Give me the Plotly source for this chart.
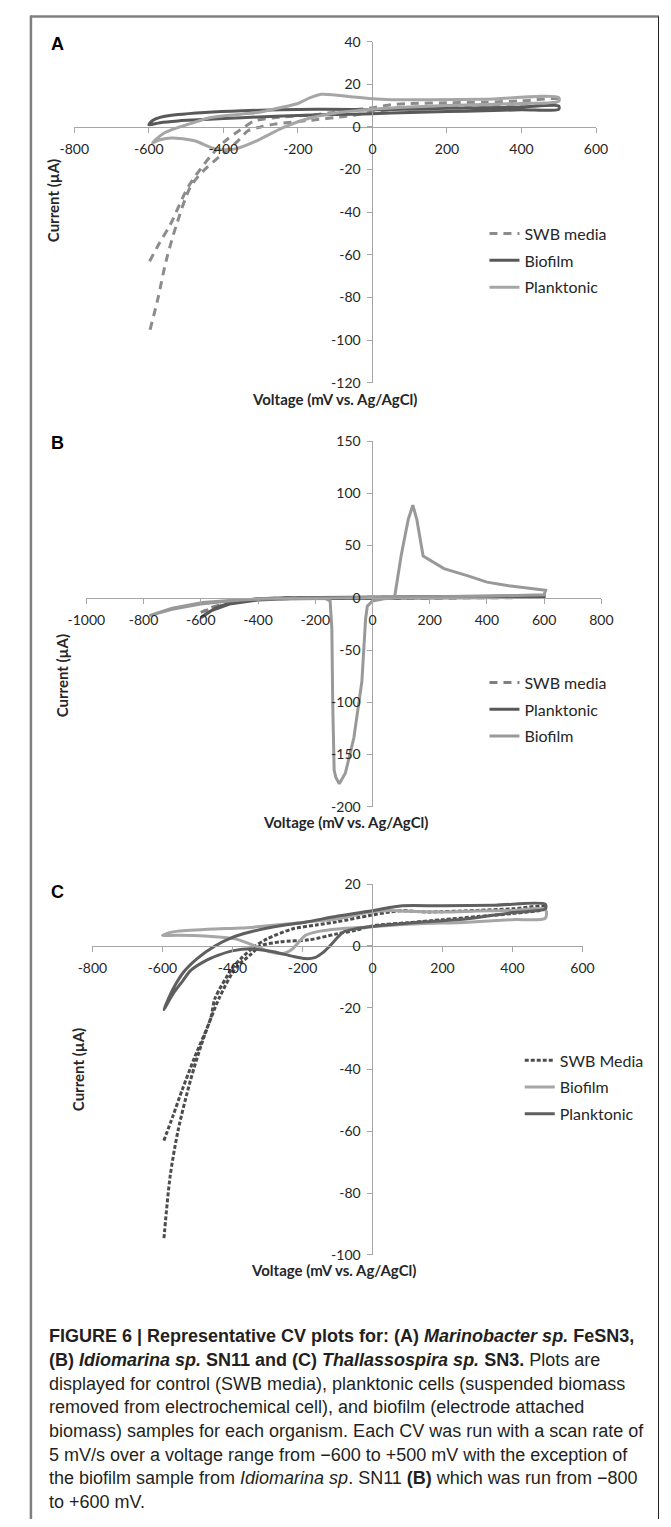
import plotly.graph_objects as go

W, H = 671, 1527

# ---------------- Panel A data (Marinobacter sp. FeSN3) ----------------
A_swb_v = [-598, -570, -543, -494, -436, -394, -360, -343, -317, -250, -147, -100, -50, 0, 50, 100, 200, 300, 400, 500,
           500, 400, 300, 200, 100, 50, 0, -50, -100, -147, -200, -266, -300, -334, -360, -411, -450, -488, -526, -554, -575, -598]
A_swb_i = [-63, -54, -46, -28, -14, -6.4, -2, 0, 2.8, 4.5, 5.8, 7, 8, 9, 10.4, 11, 11.3, 11.6, 12.2, 13,
           11.5, 10.8, 10.3, 9.8, 9, 8.2, 7, 5.5, 4.4, 3.5, 2.5, 1.2, 0, -1.8, -6.4, -14, -20, -28, -46, -63, -80, -96]

A_bio_v = [-600, -590, -570, -522, -450, -351, -250, -150, -50, 0, 100, 200, 300, 400, 500,
           500, 400, 300, 200, 100, 0, -100, -180, -260, -351, -450, -522, -570, -600]
A_bio_i = [1, 3, 4.5, 5.8, 6.8, 7.6, 8, 8.3, 8.2, 8, 8.3, 8.7, 9, 9.3, 9.8,
           8.3, 8, 7.6, 7.2, 6.8, 6.2, 5.8, 5.5, 5, 4.3, 3.5, 2.8, 2, 1]

A_pla_v = [-590, -560, -522, -480, -437, -350, -300, -248, -200, -170, -138, -100, -50, 0, 50, 150, 300, 500,
           500, 400, 300, 200, 100, 0, -95, -181, -240, -309, -368, -420, -480, -539, -570, -590]
A_pla_i = [-7.5, -3, -0.3, 2, 4.3, 6, 7, 9, 11, 13.5, 15.3, 15, 14, 13.2, 12.8, 12.8, 13, 13.8,
           12, 11, 10.5, 10, 9.3, 8.3, 6.6, 3.5, -0.3, -6.4, -10.3, -10.3, -6.4, -5.2, -6, -7.5]

# ---------------- Panel B data (Idiomarina sp. SN11) ----------------
B_swb_v = [-600, -560, -500, -450, -400, -300, -100, 100, 300, 600, 600, 300, 100, -100, -300, -400, -500, -560, -600]
B_swb_i = [-14, -10, -5, -2.5, -1, 0, 0.3, 0.6, 1, 1.5, 0.3, 0, -0.3, -0.5, -0.8, -1.5, -4.5, -9, -14]

B_pla_v = [-600, -580, -550, -500, -450, -400, -300, -100, 100, 300, 600, 600, 300, 100, -100, -300, -400, -500, -560, -600]
B_pla_i = [-19, -15, -10, -5, -2.5, -1, 0, 0.5, 1, 1.5, 2, 0.5, 0, -0.5, -0.5, -1, -2, -6, -12, -19]

B_bio_v = [-780, -700, -593, -500, -380, -250, -165, -148, -142, -139, -137, -134, -128, -116, -95, -65, -37, -28, -24, -18, 0, 40, 77,
           100, 125, 141, 155, 177, 250, 334, 400, 476, 550, 605,
           600, 400, 200, 0, -200, -400, -500, -600, -700, -780]
B_bio_i = [-17, -10, -4.4, -2.5, -1.2, -0.5, -0.5, -3, -30, -100, -150, -165, -172, -178, -168, -134, -80, -45, -20, -8, -3, -1, 0,
           40, 75, 88.7, 75, 40, 28, 21, 15, 11.5, 9, 7.3,
           3, 1.5, 1, 0.5, 0, -1, -3, -6, -11, -17]

# ---------------- Panel C data (Thallassospira sp. SN3) ----------------
C_swb_v = [-596, -570, -544, -508, -462, -450, -401, -375, -338, -301, -229, -160, -102, -11, 50, 86, 156, 300, 400, 494,
           494, 400, 300, 200, 100, 0, -50, -102, -180, -265, -320, -350, -390, -438, -485, -520, -555, -578, -596]
C_swb_i = [-63, -55, -46.7, -36, -23.3, -17, -7.3, -4, -0.3, 2.3, 5.5, 6.8, 7.8, 9.8, 11, 11.4, 11, 11.5, 12, 12.8,
           12, 10.5, 9.5, 8.5, 7.5, 6.5, 5, 3.9, 2, 1.3, 0, -3, -7, -16.9, -30.7, -43.5, -59.5, -74.5, -95]

C_bio_v = [-600, -580, -555, -450, -374, -300, -192, -100, -10, 50, 100, 200, 300, 400, 494,
           494, 400, 272, 100, 0, -100, -150, -192, -229, -256, -290, -329, -392, -450, -510, -560, -600]
C_bio_i = [3.4, 4.3, 4.8, 5.5, 5.8, 6.5, 7.7, 8.8, 10.9, 11.5, 11.2, 11, 11.3, 11.5, 11.8,
           9, 8.5, 7.7, 7, 6.2, 5.5, 4.8, 3.4, -1, -2.5, -2, -0.3, 2.3, 3, 3.4, 3.5, 3.4]

C_pla_v = [-596, -570, -540, -500, -450, -400, -350, -300, -250, -192, -102, -10, 53, 86, 200, 350, 494,
           494, 400, 272, 150, 39, -10, -50, -83, -120, -140, -165, -192, -230, -283, -347, -401, -440, -480, -520, -540, -570, -596]
C_pla_i = [-20.6, -14, -8.5, -4, 0, 2.8, 4.5, 5.8, 6.8, 7.7, 9.6, 11.2, 12.5, 13, 13, 13.2, 13.5,
           12, 10.8, 8.8, 7.8, 6.8, 6.2, 5.5, 4.5, 0.2, -2, -3.8, -4.1, -3.3, -1.9, -0.9, -1.6, -3, -5, -8, -11, -15.5, -20.6]

# tick values
A_xticks = [-800, -600, -400, -200, 0, 200, 400, 600]
A_yticks = [40, 20, 0, -20, -40, -60, -80, -100, -120]
B_xticks = [-1000, -800, -600, -400, -200, 0, 200, 400, 600, 800]
B_yticks = [150, 100, 50, 0, -50, -100, -150, -200]
C_xticks = [-800, -600, -400, -200, 0, 200, 400, 600]
C_yticks = [20, 0, -20, -40, -60, -80, -100]

# ---------------- layout helpers ----------------
def px(x):
    return x / W

def py(y):
    return 1 - y / H

AXC = "#a6a6a6"
TICKF = dict(family="Lato, Open Sans, sans-serif", size=14, color="#262626")
LEGF = dict(family="Lato, Open Sans, sans-serif", size=16, color="#262626")

panels = [
    dict(k="", xd=(58, 605), yd=(33, 378), xr=(-800, 600), yr=(-120, 40), xt=A_xticks, yt=A_yticks),
    dict(k="2", xd=(70.6, 610.6), yd=(437, 806.7), xr=(-1000, 800), yr=(-200, 150), xt=B_xticks, yt=B_yticks),
    dict(k="3", xd=(77, 590.8), yd=(885, 1260), xr=(-800, 600), yr=(-100, 20), xt=C_xticks, yt=C_yticks),
]

fig = go.Figure()

def add(panel_idx, v, i, name, color, dash, legend, group, shape="spline"):
    k = panels[panel_idx]["k"]
    fig.add_trace(go.Scatter(
        x=v, y=i, mode="lines", name=name,
        line=dict(color=color, width=3, dash=dash, shape=shape, smoothing=0.8 if shape == "spline" else None),
        xaxis="x" + k, yaxis="y" + k, legend=legend, legendgroup=group,
    ))

# Panel A
add(0, A_swb_v, A_swb_i, "SWB media", "#8c8c8c", "8px,6px", "legend", "a1")
add(0, A_bio_v, A_bio_i, "Biofilm", "#595959", "solid", "legend", "a2")
add(0, A_pla_v, A_pla_i, "Planktonic", "#a6a6a6", "solid", "legend", "a3")
# Panel B
add(1, B_swb_v, B_swb_i, "SWB media", "#7f7f7f", "8px,6px", "legend2", "b1", "linear")
add(1, B_pla_v, B_pla_i, "Planktonic", "#595959", "solid", "legend2", "b2", "linear")
add(1, B_bio_v, B_bio_i, "Biofilm", "#999999", "solid", "legend2", "b3", "linear")
# Panel C
add(2, C_swb_v, C_swb_i, "SWB Media", "#4d4d4d", "4px,2px", "legend3", "c1")
add(2, C_bio_v, C_bio_i, "Biofilm", "#a6a6a6", "solid", "legend3", "c2")
add(2, C_pla_v, C_pla_i, "Planktonic", "#5f5f5f", "solid", "legend3", "c3")

layout = dict(
    width=W, height=H, margin=dict(l=0, r=0, t=0, b=0),
    paper_bgcolor="white", plot_bgcolor="rgba(0,0,0,0)",
    showlegend=True,
)

for p in panels:
    k = p["k"]
    xd = (px(p["xd"][0]), px(p["xd"][1]))
    yd = (py(p["yd"][1]), py(p["yd"][0]))
    xr, yr = p["xr"], p["yr"]
    xpos0 = xd[0] + (0 - xr[0]) / (xr[1] - xr[0]) * (xd[1] - xd[0])
    ypos0 = yd[0] + (0 - yr[0]) / (yr[1] - yr[0]) * (yd[1] - yd[0])
    layout["xaxis" + k] = dict(
        domain=xd, range=list(xr), anchor="free", position=ypos0,
        tickvals=p["xt"], ticktext=[str(t) for t in p["xt"]],
        showline=True, linecolor=AXC, linewidth=1, ticks="outside", ticklen=5, tickcolor=AXC,
        showgrid=False, zeroline=False, tickfont=TICKF, ticklabelstandoff=4,
        fixedrange=True,
    )
    layout["yaxis" + k] = dict(
        domain=yd, range=list(yr), anchor="free", position=xpos0,
        tickvals=p["yt"], ticktext=[str(t) for t in p["yt"]],
        showline=True, linecolor=AXC, linewidth=1, ticks="outside", ticklen=5, tickcolor=AXC,
        showgrid=False, zeroline=False, tickfont=TICKF, ticklabelstandoff=4,
        fixedrange=True,
    )

leg_common = dict(bgcolor="rgba(0,0,0,0)", font=LEGF, itemwidth=30, tracegroupgap=3,
                  xanchor="left", yanchor="top", traceorder="grouped")
layout["legend"] = dict(x=px(488), y=py(210), **leg_common)
layout["legend2"] = dict(x=px(488), y=py(664), **leg_common)
layout["legend3"] = dict(x=px(525), y=py(1046), **leg_common)

fig.update_layout(**layout)

# Axis titles and panel letters
TITLEF = dict(family="Lato, Open Sans, sans-serif", size=15, color="#262626")
ann = []
for (xc, yc) in [(331, 394), (342, 822), (330, 1275)]:
    ann.append(dict(x=px(xc), y=py(yc), xref="paper", yref="paper", text="<b>Voltage (mV vs. Ag/AgCl)</b>",
                    showarrow=False, font=TITLEF, xanchor="center", yanchor="middle"))
for (xc, yc) in [(36, 194), (46, 674), (62, 1073)]:
    ann.append(dict(x=px(xc), y=py(yc), xref="paper", yref="paper", text="<b>Current (µA)</b>",
                    showarrow=False, font=TITLEF, xanchor="center", yanchor="middle", textangle=-90))
LETF = dict(family="Liberation Sans, Arial, sans-serif", size=18, color="black")
for (xc, yc, t) in [(40, 35, "A"), (40, 439, "B"), (40, 893, "C")]:
    ann.append(dict(x=px(xc), y=py(yc), xref="paper", yref="paper", text="<b>%s</b>" % t,
                    showarrow=False, font=LETF, xanchor="center", yanchor="middle"))

caption = [
    "<b>FIGURE 6 | Representative CV plots for: (A) <i>Marinobacter sp.</i> FeSN3,</b>",
    "<b>(B) <i>Idiomarina sp.</i> SN11 and (C) <i>Thallassospira sp.</i> SN3.</b> Plots are",
    "displayed for control (SWB media), planktonic cells (suspended biomass",
    "removed from electrochemical cell), and biofilm (electrode attached",
    "biomass) samples for each organism. Each CV was run with a scan rate of",
    "5 mV/s over a voltage range from \u2212600 to +500 mV with the exception of",
    "the biofilm sample from <i>Idiomarina sp</i>. SN11 <b>(B)</b> which was run from \u2212800",
    "to +600 mV.",
]
CAPF = dict(family="Liberation Sans, Arial, sans-serif", size=18, color="#231f20")
for n, line in enumerate(caption):
    ann.append(dict(x=px(29), y=py(1342 + n * 24), xref="paper", yref="paper", text=line,
                    showarrow=False, font=CAPF, xanchor="left", yanchor="middle"))

fig.update_layout(annotations=ann)

# frame
fig.update_layout(shapes=[
    dict(type="line", xref="paper", yref="paper", x0=px(12), x1=px(671), y0=py(7.5), y1=py(7.5),
         line=dict(color="#808080", width=2.5)),
    dict(type="line", xref="paper", yref="paper", x0=px(12.5), x1=px(12.5), y0=py(6.5), y1=0,
         line=dict(color="#808080", width=2.5)),
    dict(type="line", xref="paper", yref="paper", x0=px(670.5), x1=px(670.5), y0=py(7.5), y1=0,
         line=dict(color="#222222", width=1)),
])

fig.write_html("out.html", config={"displayModeBar": False},
               post_script="document.body.style.margin='0';document.body.style.overflow='hidden';")
